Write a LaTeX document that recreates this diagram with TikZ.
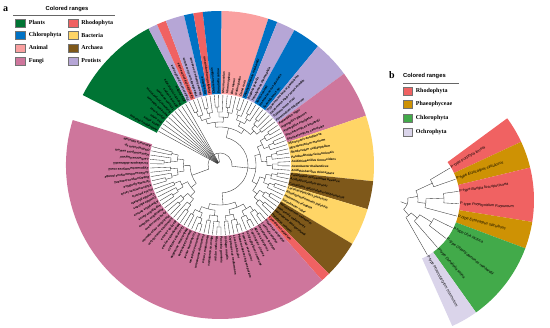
\documentclass[tikz,border=0pt]{standalone}
\usepackage{fontspec}
\setmainfont{Liberation Serif}
\setsansfont{Liberation Sans}
\usetikzlibrary{positioning}
\definecolor{PlantGreen}{RGB}{0,116,52}
\definecolor{ChloroBlue}{RGB}{0,114,196}
\definecolor{AnimalPink}{RGB}{250,160,160}
\definecolor{FungiMauve}{RGB}{206,118,156}
\definecolor{RhodoRed}{RGB}{240,98,98}
\definecolor{BactYellow}{RGB}{255,213,102}
\definecolor{ArchBrown}{RGB}{126,88,26}
\definecolor{ProtLilac}{RGB}{182,166,214}
\definecolor{PhaeoGold}{RGB}{206,146,4}
\definecolor{ChloroGreen}{RGB}{66,170,74}
\definecolor{OchroLilac}{RGB}{218,212,234}

% leaf positions: angle of leaf k = \angstart-(k-0.5)*\angstep
\newcommand\angstart{153}
\newcommand\angstep{3.535}
\newcommand\tipr{70}

% balanced clade over leaves #1..#2, stem from #3 to #4, step #5
\newcommand\subtree[5]{%
  \ifnum#1=#2\relax
    \draw[branch] ({\angstart-(#1-0.5)*\angstep}:#3) -- ({\angstart-(#1-0.5)*\angstep}:\tipr);
  \else
    \begingroup
    \pgfmathtruncatemacro\cut{(#1+#2)/2}%
    \pgfmathtruncatemacro\cutnext{\cut+1}%
    \pgfmathsetmacro\rnext{#4+#5}%
    \pgfmathsetmacro\amid{\angstart-((#1+#2)/2-0.5)*\angstep}%
    \pgfmathsetmacro\aone{\angstart-((#1+\cut)/2-0.5)*\angstep}%
    \pgfmathsetmacro\atwo{\angstart-((\cutnext+#2)/2-0.5)*\angstep}%
    \draw[branch] (\amid:#3) -- (\amid:#4);
    \draw[branch] (\aone:#4) arc[start angle=\aone, end angle=\atwo, radius=#4pt];
    \edef\next{\noexpand\subtree{#1}{\cut}{#4}{\rnext}{#5}\noexpand\subtree{\cutnext}{#2}{#4}{\rnext}{#5}}%
    \next
    \endgroup
  \fi}

% clade arc between leaf positions #1 and #2 at radius #3, stem back to #4
\newcommand\clade[4]{%
  \pgfmathsetmacro\aone{\angstart-(#1-0.5)*\angstep}%
  \pgfmathsetmacro\atwo{\angstart-(#2-0.5)*\angstep}%
  \pgfmathsetmacro\amid{\angstart-((#1+#2)/2-0.5)*\angstep}%
  \draw[branch] (\aone:#3) arc[start angle=\aone, end angle=\atwo, radius=#3pt];
  \draw[branch] (\amid:#4) -- (\amid:#3);}
\newcommand\leafstem[2]{%
  \draw[branch] ({\angstart-(#1-0.5)*\angstep}:#2) -- ({\angstart-(#1-0.5)*\angstep}:\tipr);}

\tikzset{
  branch/.style={draw=black!80, line width=0.35pt},
  leafa/.style={anchor=west, inner sep=0pt, font=\sffamily\bfseries\itshape\fontsize{3.1}{3.5}\selectfont},
  leafb/.style={anchor=west, inner sep=0.5pt, font=\sffamily\fontsize{3.8}{4.4}\selectfont},
  keybox/.style={draw=black!55, line width=0.3pt, minimum width=10pt, minimum height=8pt, inner sep=0pt},
  keytext/.style={font=\bfseries\fontsize{6}{7}\selectfont, inner sep=0pt},
  keytitle/.style={font=\sffamily\bfseries\fontsize{5.8}{7}\selectfont, inner sep=0pt},
  panel/.style={font=\bfseries\fontsize{10}{12}\selectfont, inner sep=0pt}
}

\begin{document}
\begin{tikzpicture}[x=1pt, y=1pt]
\useasboundingbox (0,0) rectangle (550,328);

% ---- panel a: legend
\node[panel] (tagA) at (5.5,318.5) {a};
\node[keytitle] (titleA) at (67,318.5) {Colored ranges};
\draw[black!60, line width=0.5pt] (13,313) -- (115,313);
\foreach \c/\t/\x/\y [count=\k] in {PlantGreen/Plants/20.5/305.3, ChloroBlue/Chlorophyta/20.5/293,
    AnimalPink/Animal/20.5/280.3, FungiMauve/Fungi/20.5/267.3, RhodoRed/Rhodophyta/73/305.3,
    BactYellow/Bacteria/73/293, ArchBrown/Archaea/73/280.3, ProtLilac/Protists/73/267.3}{
  \node[keybox, fill=\c] (keya\k) at (\x,\y) {};
  \node[keytext, right=3pt of keya\k] (texta\k) {\t};
}

% ---- panel a: circular tree
\begin{scope}[shift={(220,163)}]
% colored ranges
\foreach \i/\j/\c in {1/10/PlantGreen, 11/11/ProtLilac, 12/12/RhodoRed, 13/14/ProtLilac,
    15/15/ChloroBlue, 16/16/RhodoRed, 17/18/ChloroBlue, 19/23/AnimalPink, 24/24/ChloroBlue,
    25/26/ProtLilac, 27/29/ChloroBlue, 30/33/ProtLilac, 34/38/FungiMauve, 39/45/BactYellow,
    46/48/ArchBrown, 49/52/BactYellow, 53/56/ArchBrown, 57/57/RhodoRed, 58/99/FungiMauve}{
  \pgfmathsetmacro\aone{\angstart-(\i-1)*\angstep}
  \pgfmathsetmacro\atwo{\angstart-\j*\angstep}
  \fill[\c] (\aone:71) arc[start angle=\aone, end angle=\atwo, radius=71pt]
    -- (\atwo:154) arc[start angle=\atwo, end angle=\aone, radius=154pt] -- cycle;
}

% leaf names
\foreach \sp [count=\k] in {Arabidopsis thaliana, Oryza sativa, Zea mays, Glycine max,
    Nicotiana tabacum, Solanum lycopersicum, Triticum aestivum, Brassica napus,
    Populus trichocarpa, Vitis vinifera, Thalassiosira pseudonana, Cyanidioschyzon merolae,
    Phaeodactylum tricornutum, Nannochloropsis oceanica, Ulva lactuca, Porphyridium purpureum,
    Chlorella vulgaris, Dunaliella salina, Mus musculus, Homo sapiens, Bos taurus, Gallus gallus,
    Danio rerio, Chlamydomonas reinhardtii, Euglena gracilis, Tetrahymena thermophila,
    Volvox carteri, Haematococcus pluvialis, Scenedesmus sp., Trypanosoma brucei gambiense,
    Leishmania major strain Friedlin, Trypanosoma cruzi, Plasmodium falciparum,
    Aspergillus niger, Aspergillus glaucus, Aspergillus fumigatus, Saccharomyces boulardii,
    Saccharomyces cerevisiae, Microcystis aeruginosa, Mycobacterium marinum,
    Rhodovulum sulfidophilum, Paraburkholderia kururiensis, Acidithiobacillus ferrooxidans,
    Acetobacter thailandicus, Acidithiobacillus thiooxidans, Candidatus Nitrosotalea bavarica,
    Aciduliprofundum boonei, Candidatus Nitrosotalea okcheonensis, Lacticaseibacillus paracasei,
    Rhodopseudomonas palustris, Halomonas elongata, Salinibacter ruber, Halobacterium salinarum,
    Haloarcula vallismortis, Halorubrum lacusprofundi, Haloferax volcanii, Cyanidium caldarium,
    Pleurotus ostreatus, Lentinula edodes, Ganoderma lucidum, Agaricus bisporus,
    Coprinopsis cinerea, Schizophyllum commune, Trametes versicolor, Phanerochaete chrysosporium,
    Laccaria bicolor, Cryptococcus neoformans, Ustilago maydis, Puccinia graminis,
    Rhizopus oryzae, Mucor circinelloides, Neurospora crassa, Fusarium graminearum,
    Fusarium oxysporum, Trichoderma reesei, Beauveria bassiana, Metarhizium anisopliae,
    Cordyceps militaris, Magnaporthe oryzae, Botrytis cinerea, Sclerotinia sclerotiorum,
    Penicillium chrysogenum, Penicillium rubens, Aspergillus nidulans, Aspergillus flavus,
    Aspergillus terreus, Candida albicans, Candida glabrata, Pichia pastoris,
    Kluyveromyces lactis, Yarrowia lipolytica, Debaryomyces hansenii, Schizosaccharomyces pombe,
    Zygosaccharomyces rouxii, Torulaspora delbrueckii, Lachancea kluyveri, Hanseniaspora uvarum,
    Cladosporium sp., Alternaria alternata}{
  \pgfmathsetmacro\ang{\angstart-(\k-0.5)*\angstep}
  \node[leafa, rotate=\ang] (sa\k) at (\ang:71.5) {\sp};
}

% branches: plants star from the root
\draw[branch] (151.23:3) arc[start angle=151.23, end angle=100, radius=3pt];
\foreach \k in {1,...,10}{ \leafstem{\k}{3} }
\draw[branch] (100:3) -- (100:12);
\draw[branch] (200.15:12) arc[start angle=200.15, end angle=-6.08, radius=12pt];
\draw[branch] (-6.08:12) -- (-6.08:28);
\draw[branch] (77:28) arc[start angle=77, end angle=-85.6, radius=28pt];
\subtree{11}{33}{28}{38}{5}
\subtree{34}{57}{28}{36}{5.5}
\subtree{58}{78}{28}{40}{5.5}
\subtree{79}{99}{12}{30}{6.5}
\end{scope}

% ---- panel b: legend
\node[panel] (tagB) at (392,253) {b};
\node[keytitle, anchor=west] (titleB) at (403,252) {Colored ranges};
\draw[black!60, line width=0.5pt] (403,245) -- (459,245);
\foreach \c/\t/\y [count=\k] in {RhodoRed/Rhodophyta/237, PhaeoGold/Phaeophyceae/224,
    ChloroGreen/Chlorophyta/210, OchroLilac/Ochrophyta/196}{
  \node[keybox, minimum width=9pt, fill=\c] (keyb\k) at (407.5,\y) {};
  \node[keytext, right=3.5pt of keyb\k] (textb\k) {\t};
}

% ---- panel b: fan tree
\begin{scope}[shift={(396,128)}]
\renewcommand\angstart{36.3}
\renewcommand\angstep{11.36}
\renewcommand\tipr{63}
\foreach \i/\j/\c in {1/1/RhodoRed, 2/2/PhaeoGold, 3/4/RhodoRed, 5/5/PhaeoGold,
    6/8/ChloroGreen, 9/9/OchroLilac}{
  \pgfmathsetmacro\aone{\angstart-(\i-1)*\angstep}
  \pgfmathsetmacro\atwo{\angstart-\j*\angstep}
  \fill[\c] (\aone:64) arc[start angle=\aone, end angle=\atwo, radius=64pt]
    -- (\atwo:138) arc[start angle=\atwo, end angle=\aone, radius=138pt] -- cycle;
}
\foreach \sp [count=\k] in {Porphyra tenera, Ectocarpus siliculosus, Bangia fuscopurpurea,
    Porphyridium purpureum, Ectocarpus siliculosus, Ulva lactuca, Chlamydomonas reinhardtii,
    Dunaliella salina, Phaeodactylum tricornutum}{
  \pgfmathsetmacro\ang{\angstart-(\k-0.5)*\angstep}
  \node[leafb, rotate=\ang] (sb\k) at (\ang:63.5) {P-type \textit{\sp}};
}
\clade{1}{2}{40}{22} \leafstem{1}{40} \leafstem{2}{40}
\clade{3}{4}{48}{30} \leafstem{3}{48} \leafstem{4}{48}
\clade{3.5}{5}{30}{22} \leafstem{5}{30}
\clade{1.5}{4.25}{22}{12}
\clade{6}{7}{42}{28} \leafstem{6}{42} \leafstem{7}{42}
\clade{6.5}{8}{28}{20} \leafstem{8}{28}
\clade{7.25}{9}{20}{12} \leafstem{9}{20}
\clade{2.875}{8.125}{12}{5}
\end{scope}

\end{tikzpicture}
\end{document}
